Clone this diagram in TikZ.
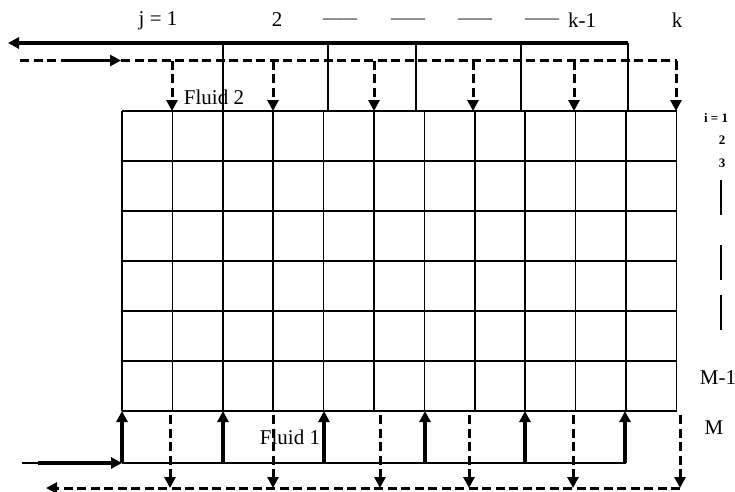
\documentclass[tikz,border=0pt]{standalone}
\usepackage{fontspec}
\setmainfont{Liberation Serif}
\usetikzlibrary{arrows.meta}
\begin{document}
\begin{tikzpicture}[x=1pt,y=-1pt,
  gridline/.style={line width=1.6pt},
  thickline/.style={line width=3.4pt},
  thinline/.style={line width=1.6pt},
  dashline/.style={line width=3pt,dash pattern=on 9pt off 4.5pt},
  tipend/.style={-{Triangle[width=11pt,length=11pt]}},
  lab/.style={font=\fontsize{21}{24}\selectfont, inner sep=0pt},
  dashlab/.style={font=\fontsize{17}{20}\selectfont, inner sep=0pt},
  flab/.style={font=\fontsize{21}{24}\selectfont, inner sep=0pt},
  smalllab/.style={font=\bfseries\fontsize{13}{14}\selectfont, inner sep=0pt}]
\useasboundingbox (0,0) rectangle (735,491);
% grid
\foreach \i in {0,...,11} \draw[gridline] ({122+50.4*\i},111) -- ({122+50.4*\i},411);
\foreach \j in {0,...,6} \draw[gridline] (122,{111+50*\j}) -- (677,{111+50*\j});
% ---- top: fluid 2 outlet (solid)
\coordinate (tl) at (8,43);
\coordinate (tr) at (628,43);
\draw[thickline,tipend] (tr) -- (tl);
\foreach \x/\n in {223/a,328/b,416/c,521/d,628/e}{
  \coordinate (to\n) at (\x,43);
  \coordinate (tg\n) at (\x,111);
  \draw[thinline] (to\n) -- (tg\n);
}
% ---- top: fluid 2 inlet (dashed)
\coordinate (dl) at (20,60.5);
\coordinate (ds) at (70,60.5);
\coordinate (de) at (121,60.5);
\coordinate (dr) at (677,60.5);
\draw[dashline] (dl) -- (ds);
\draw[thickline,tipend] (ds) -- (de);
\draw[dashline] (de) -- (dr);
\foreach \x/\n in {172/a,273/b,374/c,473/d,574/e,676/f}{
  \coordinate (di\n) at (\x,60.5);
  \coordinate (dg\n) at (\x,111);
  \draw[dashline,tipend] (di\n) -- (dg\n);
}
% ---- bottom: fluid 1 inlet (solid)
\coordinate (bl) at (22,463);
\coordinate (bs) at (38,463);
\coordinate (bc) at (122,463);
\coordinate (br) at (626,463);
\draw[thinline] (bl) -- (bs);
\draw[thickline,tipend] (bs) -- (bc);
\draw[thinline] (bc) -- (br);
\foreach \x/\n in {122/a,223/b,324/c,425/d,525/e,625/f}{
  \coordinate (bb\n) at (\x,463);
  \coordinate (bg\n) at (\x,411);
  \draw[thickline,tipend] (bb\n) -- (bg\n);
}
% ---- bottom: fluid 1 outlet (dashed)
\coordinate (el) at (46,488);
\coordinate (er) at (680,488);
\draw[dashline,tipend] (er) -- (el);
\foreach \x/\n in {170/a,273/b,380/c,469/d,573/e,680/f}{
  \coordinate (eg\n) at (\x,415);
  \coordinate (eb\n) at (\x,488);
  \draw[dashline,tipend] (eg\n) -- (eb\n);
}
% ---- labels
\node[lab] (j1) at (158,21) {j = 1};
\node[lab] (j2) at (277,20) {2};
\node[dashlab] (d1) at (340,21) {——};
\node[dashlab] (d2) at (408,21) {——};
\node[dashlab] (d3) at (475,21) {——};
\node[dashlab] (d4) at (542,21) {——};
\node[lab] (jk1) at (582,20) {k-1};
\node[lab] (jk) at (677,20) {k};
\node[flab] (f2) at (214,97) {Fluid 2};
\node[flab] (f1) at (290,437) {Fluid 1};
\node[smalllab] (i1) at (716,118) {i = 1};
\node[smalllab] (i2) at (722,140) {2};
\node[smalllab] (i3) at (722,163) {3};
\coordinate (v1a) at (721,180); \coordinate (v1b) at (721,215);
\coordinate (v2a) at (721,245); \coordinate (v2b) at (721,280);
\coordinate (v3a) at (721,295); \coordinate (v3b) at (721,330);
\draw[thinline] (v1a) -- (v1b);
\draw[thinline] (v2a) -- (v2b);
\draw[thinline] (v3a) -- (v3b);
\node[lab] (m1) at (718,378) {M-1};
\node[lab] (mm) at (714,428) {M};
\end{tikzpicture}
\end{document}
